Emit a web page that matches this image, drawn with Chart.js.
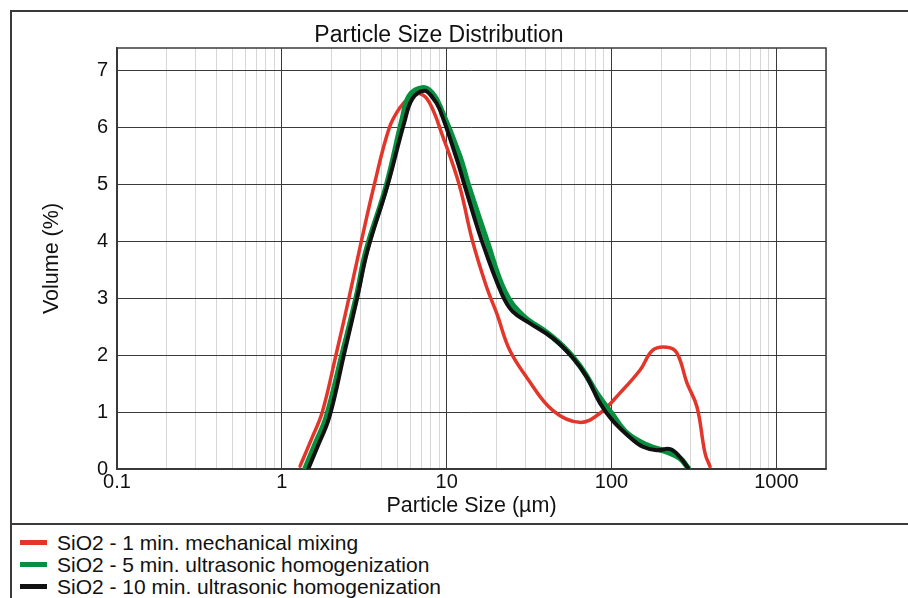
<!DOCTYPE html>
<html>
<head>
<meta charset="utf-8">
<script src="https://cdn.jsdelivr.net/npm/chart.js@4"></script>
<style>
  body { margin: 0; background: #fff; font-family: "Liberation Sans", Arial, sans-serif; }
  #frame { position: absolute; left: 10px; top: 10px; width: 1000px; height: 700px;
           border-left: 2px solid #3a3a3a; border-top: 2px solid #3a3a3a; }
  #sep { position: absolute; left: 10px; top: 523px; width: 1000px; height: 2px; background: #3a3a3a; }
  #wrap { position: absolute; left: 0; top: 0; width: 908px; height: 522px; }
  #legend { position: absolute; left: 20px; top: 532px; font-size: 21px; color: #111; }
  .row { height: 22px; line-height: 22px; white-space: nowrap; }
  .swatch { display: inline-block; width: 27px; height: 5px; vertical-align: middle; margin-right: 10px; position: relative; top: -2px; }
</style>
</head>
<body>
<div id="frame"></div>
<div id="sep"></div>
<div id="wrap"><canvas id="psd"></canvas></div>
<div id="legend"></div>
<script>
// particle size (um) and volume (%)
const mixSize = [1.29, 1.53, 1.76, 2.14, 2.56, 2.95, 3.64, 4.49, 5.2, 5.9, 6.83, 7.86, 9.43, 11.96, 14.3, 17.5, 20.1, 24.1, 30.6, 44, 64, 85, 112, 149, 178, 217, 249, 287, 330, 369, 396];
const mixVolume = [0.05, 0.56, 1.0, 2.03, 3.02, 3.84, 5.0, 6.0, 6.35, 6.52, 6.6, 6.44, 5.86, 4.98, 4.02, 3.19, 2.74, 2.09, 1.61, 1.03, 0.82, 0.98, 1.33, 1.74, 2.09, 2.14, 2.04, 1.51, 1.09, 0.28, 0.04];

const us5Size = [1.39, 1.6, 1.86, 2.33, 2.83, 3.25, 4.31, 5.39, 5.94, 7.23, 8.2, 9.04, 12, 13.5, 17.5, 22.5, 28.9, 40.4, 53.5, 66.9, 81.4, 100, 124, 164, 217, 260, 291];
const us5Volume = [0.02, 0.45, 0.91, 2.03, 3.02, 3.84, 4.98, 6.16, 6.56, 6.7, 6.6, 6.39, 5.5, 5.0, 4.02, 3.12, 2.7, 2.4, 2.09, 1.74, 1.33, 0.98, 0.63, 0.42, 0.3, 0.19, 0.02];

const us10Size = [1.445, 1.65, 1.94, 2.39, 2.87, 3.31, 4.37, 5.53, 6.2, 7.33, 8.2, 9.04, 11.5, 12.8, 16.3, 21.5, 25.1, 32, 44, 58, 71, 85, 101, 129, 155, 188, 227, 260, 291];
const us10Volume = [0.0, 0.4, 0.91, 2.03, 3.02, 3.84, 4.98, 6.09, 6.51, 6.65, 6.53, 6.33, 5.45, 5.0, 4.02, 3.09, 2.77, 2.56, 2.3, 1.96, 1.61, 1.16, 0.86, 0.56, 0.39, 0.33, 0.35, 0.21, 0.02];

const seriesNames = ['SiO2 - 1 min. mechanical mixing', 'SiO2 - 5 min. ultrasonic homogenization', 'SiO2 - 10 min. ultrasonic homogenization'];
const seriesColors = ['#e2362b', '#07903f', '#111111'];

const xDecades = [0.1, 1, 10, 100, 1000];
const yTicks = [0, 1, 2, 3, 4, 5, 6, 7];

const dark = '#3a3a3a';
const light = '#d6d6d6';

function zip(xs, ys) {
  return xs.map(function (x, i) { return {x: x, y: ys[i]}; });
}
function isDecade(v) {
  return Math.abs(Math.log10(v) - Math.round(Math.log10(v))) < 1e-9;
}

// box round the plot area
const framePlugin = {
  id: 'frame',
  beforeDatasetsDraw(chart) {
    const a = chart.chartArea, c = chart.ctx;
    c.save();
    c.strokeStyle = dark;
    c.lineWidth = 1.5;
    c.strokeRect(a.left, a.top, a.right - a.left, a.bottom - a.top);
    c.restore();
  }
};

const widths = [3.5, 5.5, 4];
const orders = [2, 1, 0];
const sizes = [mixSize, us5Size, us10Size];
const volumes = [mixVolume, us5Volume, us10Volume];

new Chart(document.getElementById('psd'), {
  type: 'scatter',
  data: {
    datasets: seriesNames.map(function (name, i) {
      return {
        label: name,
        data: zip(sizes[i], volumes[i]),
        showLine: true,
        borderColor: seriesColors[i],
        backgroundColor: seriesColors[i],
        borderWidth: widths[i],
        borderJoinStyle: 'round',
        borderCapStyle: 'round',
        pointRadius: 0,
        tension: 0.4,
        order: orders[i]
      };
    })
  },
  options: {
    responsive: true,
    maintainAspectRatio: false,
    animation: false,
    layout: { padding: { left: 52, right: 82, top: 0, bottom: 0 } },
    plugins: {
      legend: { display: false },
      tooltip: { enabled: false },
      title: {
        display: true,
        text: 'Particle Size Distribution',
        color: '#111',
        font: { family: 'Liberation Sans', size: 23, weight: 'normal', lineHeight: 1.0 },
        padding: { top: 24, bottom: 1 }
      }
    },
    scales: {
      x: {
        type: 'logarithmic',
        min: 0.1,
        max: 2000,
        afterBuildTicks: function (scale) {
          const t = [];
          xDecades.forEach(function (d) {
            for (let k = 1; k <= 9; k++) {
              if (d * k <= 2000) t.push({value: d * k});
            }
          });
          scale.ticks = t;
        },
        afterFit: function (scale) { scale.height = 53; },
        ticks: {
          autoSkip: false,
          maxRotation: 0,
          padding: 1,
          color: '#111',
          font: { family: 'Liberation Sans', size: 20 },
          callback: function (v) {
            return (isDecade(v) && xDecades.indexOf(+v.toPrecision(3)) >= 0) ? String(+v.toPrecision(3)) : '';
          }
        },
        grid: {
          drawTicks: false,
          lineWidth: 1,
          color: function (ctx) {
            if (!ctx.tick) return light;
            return isDecade(ctx.tick.value) ? dark : light;
          }
        },
        border: { color: dark, width: 1.5 },
        title: {
          display: true,
          text: 'Particle Size (\u00b5m)',
          color: '#111',
          font: { family: 'Liberation Sans', size: 21.5, lineHeight: 1.2 },
          padding: { top: 0, bottom: 3 }
        }
      },
      y: {
        min: 0,
        max: 7.4,
        afterBuildTicks: function (scale) {
          scale.ticks = yTicks.map(function (v) { return {value: v}; });
        },
        afterFit: function (scale) { scale.width = 65; },
        ticks: {
          padding: 9,
          color: '#111',
          font: { family: 'Liberation Sans', size: 20 }
        },
        grid: { drawTicks: false, color: dark, lineWidth: 1 },
        border: { color: dark, width: 1.5 },
        title: {
          display: true,
          text: 'Volume (%)',
          color: '#111',
          font: { family: 'Liberation Sans', size: 21.5, lineHeight: 1.2 },
          padding: { top: -13, bottom: 0 }
        }
      }
    }
  },
  plugins: [framePlugin]
});

const legend = document.getElementById('legend');
seriesNames.forEach(function (name, i) {
  const row = document.createElement('div');
  row.className = 'row';
  const sw = document.createElement('span');
  sw.className = 'swatch';
  sw.style.background = seriesColors[i];
  row.appendChild(sw);
  row.appendChild(document.createTextNode(name));
  legend.appendChild(row);
});
</script>
</body>
</html>
